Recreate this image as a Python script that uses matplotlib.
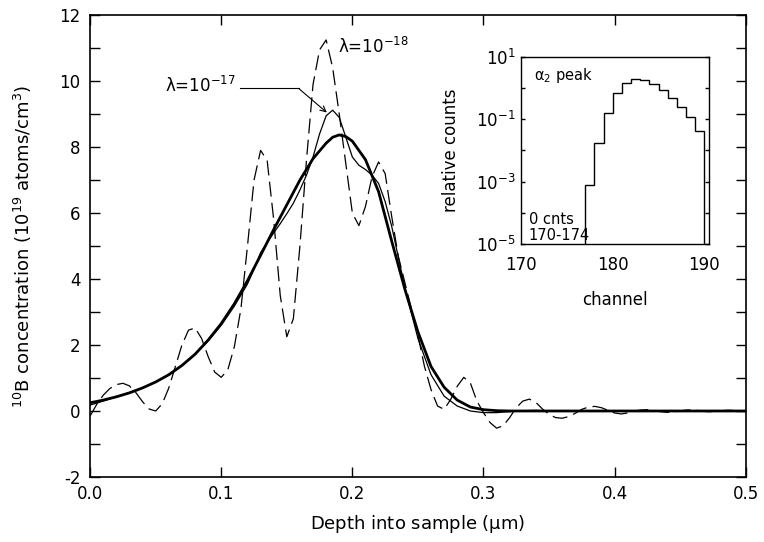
import matplotlib
matplotlib.use("Agg")
import matplotlib.pyplot as plt
from matplotlib.ticker import MultipleLocator, FixedLocator, FixedFormatter
import numpy as np

plt.rcParams['font.family'] = ['DejaVu Sans']
plt.rcParams['mathtext.default'] = 'regular'
plt.rcParams['axes.unicode_minus'] = False

# --- B-10 depth profiles ---
depth_thick = [0.00, 0.01, 0.02, 0.03, 0.04, 0.05, 0.06, 0.07, 0.08, 0.09,
               0.10, 0.11, 0.12, 0.13, 0.14, 0.15, 0.16, 0.17, 0.18, 0.185,
               0.19, 0.195, 0.20, 0.21, 0.22, 0.23, 0.24, 0.25, 0.26, 0.27,
               0.28, 0.29, 0.30, 0.31, 0.32, 0.40, 0.50]
conc_thick = [0.25, 0.33, 0.43, 0.55, 0.70, 0.88, 1.10, 1.38, 1.72, 2.15,
              2.65, 3.25, 3.95, 4.72, 5.50, 6.25, 7.00, 7.65, 8.12, 8.30,
              8.37, 8.32, 8.18, 7.62, 6.65, 5.15, 3.70, 2.40, 1.35, 0.72,
              0.33, 0.12, 0.04, 0.01, 0.00, 0.00, 0.00]

# lambda = 1e-17
depth_l17 = [0.00, 0.01, 0.02, 0.03, 0.04, 0.05, 0.06, 0.07, 0.08, 0.09,
             0.10, 0.11, 0.12, 0.125, 0.13, 0.135, 0.14, 0.145, 0.15, 0.155,
             0.16, 0.165, 0.17, 0.175, 0.18, 0.185, 0.19, 0.195, 0.20, 0.205,
             0.21, 0.215, 0.22, 0.225, 0.23, 0.24, 0.25, 0.26, 0.27, 0.28,
             0.29, 0.30, 0.31, 0.32, 0.33, 0.34, 0.35, 0.42, 0.50]
conc_l17 = [0.18, 0.30, 0.43, 0.56, 0.70, 0.88, 1.10, 1.38, 1.72, 2.12,
            2.60, 3.18, 3.85, 4.30, 4.80, 5.10, 5.40, 5.68, 5.98, 6.30,
            6.70, 7.15, 7.70, 8.40, 8.95, 9.12, 8.90, 8.30, 7.70, 7.45,
            7.32, 7.15, 6.90, 6.35, 5.60, 3.75, 2.20, 1.10, 0.45, 0.15,
            0.00, -0.05, -0.05, -0.02, 0.01, 0.02, 0.00, 0.00, 0.00]

# lambda = 1e-18
depth_l18 = [0.000, 0.005, 0.010, 0.015, 0.020, 0.025, 0.030, 0.035, 0.040, 0.045,
             0.050, 0.055, 0.060, 0.065, 0.070, 0.075, 0.080, 0.085, 0.090, 0.095,
             0.100, 0.105, 0.110, 0.115, 0.120, 0.125, 0.130, 0.135, 0.140, 0.145,
             0.150, 0.155, 0.160, 0.165, 0.170, 0.175, 0.180, 0.185, 0.190, 0.195,
             0.200, 0.205, 0.210, 0.215, 0.220, 0.225, 0.230, 0.235, 0.240, 0.245,
             0.250, 0.255, 0.260, 0.265, 0.270, 0.275, 0.280, 0.285, 0.290, 0.295,
             0.300, 0.305, 0.310, 0.315, 0.320, 0.325, 0.330, 0.335, 0.340, 0.345,
             0.350, 0.355, 0.360, 0.365, 0.370, 0.375, 0.380, 0.385, 0.390, 0.395,
             0.400, 0.405, 0.410, 0.415, 0.420, 0.425, 0.430, 0.435, 0.440, 0.445,
             0.450, 0.455, 0.460, 0.465, 0.470, 0.475, 0.480, 0.485, 0.490, 0.495,
             0.500]
conc_l18 = [-0.15, 0.20, 0.48, 0.68, 0.80, 0.84, 0.76, 0.55, 0.28, 0.06,
            0.00, 0.22, 0.70, 1.35, 2.00, 2.45, 2.52, 2.20, 1.65, 1.18,
            1.02, 1.25, 1.95, 3.10, 5.00, 7.00, 7.90, 7.60, 5.80, 3.50,
            2.25, 2.80, 5.00, 7.60, 9.90, 10.95, 11.25, 10.40, 9.00, 7.50,
            6.00, 5.62, 6.20, 7.10, 7.55, 7.20, 5.90, 4.70, 3.90, 3.10,
            2.30, 1.35, 0.65, 0.15, 0.05, 0.35, 0.75, 1.02, 0.85, 0.30,
            -0.05, -0.35, -0.52, -0.45, -0.20, 0.10, 0.30, 0.36, 0.26, 0.06,
            -0.10, -0.20, -0.22, -0.17, -0.07, 0.05, 0.12, 0.14, 0.10, 0.02,
            -0.06, -0.09, -0.06, 0.00, 0.03, 0.04, 0.02, -0.02, -0.04, -0.03,
            0.00, 0.03, 0.03, 0.01, -0.02, -0.02, 0.00, 0.02, 0.02, 0.00,
            -0.01]

# --- inset: alpha_2 peak spectrum ---
channel_edges = [177, 178, 179, 180, 181, 182, 183, 184, 185, 186, 187, 188, 189, 190]
rel_counts = [8e-4, 0.017, 0.16, 0.69, 1.5, 2.0, 1.8, 1.33, 0.87, 0.48, 0.25, 0.12, 0.041]

fig = plt.figure(figsize=(7.64, 5.42), dpi=100)
ax = fig.add_axes([0.118, 0.120, 0.858, 0.852])

ax.plot(depth_l18, conc_l18, color='black', lw=0.9, linestyle=(0, (12, 5)))
ax.plot(depth_l17, conc_l17, color='black', lw=0.9)
ax.plot(depth_thick, conc_thick, color='black', lw=2.0)

ax.set_xlim(0, 0.5)
ax.set_ylim(-2, 12)
ax.xaxis.set_major_locator(MultipleLocator(0.1))
ax.yaxis.set_major_locator(MultipleLocator(2))
ax.yaxis.set_minor_locator(MultipleLocator(1))
ax.set_xticklabels(['%.1f' % v for v in ax.get_xticks()])
ax.tick_params(which='both', direction='in', length=7, width=1.0,
               top=True, right=True, labelsize=12)
ax.tick_params(axis='x', pad=6)
ax.tick_params(axis='y', pad=7)
for s in ax.spines.values():
    s.set_linewidth(1.2)

ax.set_xlabel(r'Depth into sample ($\mu$m)', fontsize=13)
ax.set_ylabel(r'$^{10}$B concentration (10$^{19}$ atoms/cm$^{3}$)', fontsize=13)
ax.yaxis.set_label_coords(-0.085, 0.5)
ax.xaxis.set_label_coords(0.5, -0.078)

# labels for the two regularised curves
ax.text(0.111, 9.85, r'$\lambda$=10$^{-17}$', fontsize=12, ha='right', va='center')
ax.plot([0.1145, 0.159], [9.78, 9.78], color='black', lw=0.8)
ax.annotate('', xy=(0.1805, 9.05), xytext=(0.159, 9.78),
            arrowprops=dict(arrowstyle='->', lw=0.8, color='black',
                            shrinkA=0, shrinkB=0))
ax.text(0.189, 11.05, r'$\lambda$=10$^{-18}$', fontsize=12, ha='left', va='center')

# inset
axi = fig.add_axes([0.682, 0.550, 0.246, 0.345])
axi.stairs(rel_counts, channel_edges, baseline=1e-5, color='black', lw=1.0)
axi.set_yscale('log')
axi.set_xlim(170, 190.5)
axi.set_ylim(1e-5, 1e1)
axi.set_xticks([170, 180, 190])
axi.yaxis.set_major_locator(FixedLocator([1e-5, 1e-3, 1e-1, 1e1]))
axi.yaxis.set_major_formatter(FixedFormatter([r'$10^{-5}$', r'$10^{-3}$',
                                              r'$10^{-1}$', r'$10^{1}$']))
axi.yaxis.set_minor_locator(FixedLocator([1e-4, 1e-2, 1e0]))
axi.yaxis.set_minor_formatter(FixedFormatter(['', '', '']))
axi.tick_params(axis='y', which='both', direction='in', length=3, width=1.0,
                right=True, labelsize=12, pad=4)
axi.tick_params(axis='x', length=0, labelsize=12, pad=9)
for s in axi.spines.values():
    s.set_linewidth(1.0)
axi.set_ylabel('relative counts', fontsize=12)
axi.yaxis.set_label_coords(-0.325, 0.5)
axi.set_xlabel('channel', fontsize=12)
axi.xaxis.set_label_coords(0.5, -0.25)

axi.text(0.07, 0.9, r'$\alpha_2$ peak', transform=axi.transAxes, fontsize=10.5,
         ha='left', va='center')
axi.text(0.04, 0.13, '0 cnts', transform=axi.transAxes, fontsize=10.5,
         ha='left', va='center')
axi.text(0.04, 0.045, '170-174', transform=axi.transAxes, fontsize=10.5,
         ha='left', va='center')

fig.savefig('out.png', dpi=100)
